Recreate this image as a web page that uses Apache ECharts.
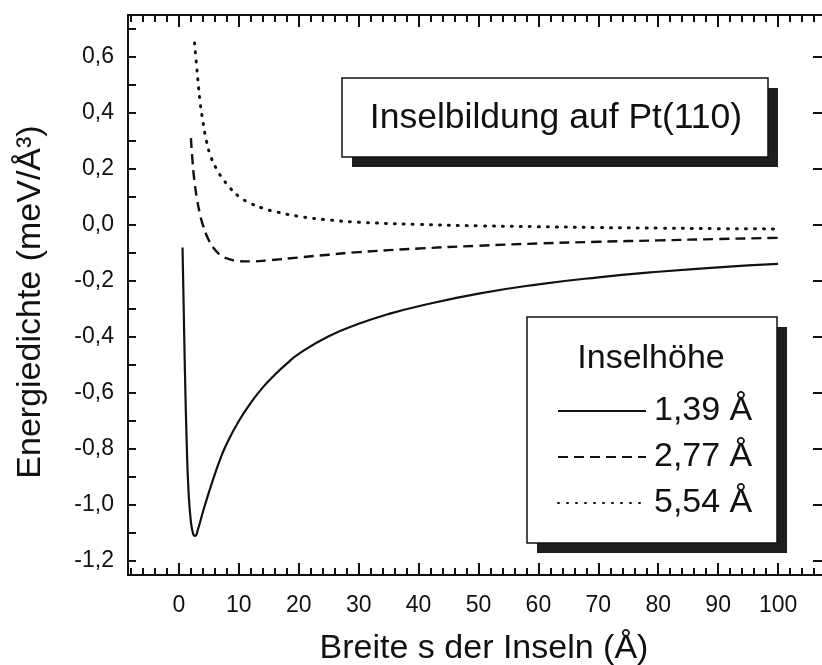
<!DOCTYPE html>
<html>
<head>
<meta charset="utf-8">
<script src="https://cdn.jsdelivr.net/npm/echarts@6/dist/echarts.min.js"></script>
<style>html,body{margin:0;padding:0;background:#fff}#c{width:822px;height:665px}</style>
</head>
<body>
<div id="c"></div>
<script>
// ---- data ----
var seriesNames = ['1,39 Å', '2,77 Å', '5,54 Å'];
var s1x = [0.6, 0.8, 1.0, 1.3, 1.6, 2.0, 2.4, 2.7, 3.2, 4, 5, 6, 7, 8, 10, 12, 14, 16, 18, 20, 25, 30, 35, 40, 50, 60, 70, 80, 90, 100];
var s1y = [-0.08, -0.3, -0.52, -0.78, -0.95, -1.06, -1.105, -1.11, -1.085, -1.025, -0.955, -0.89, -0.83, -0.78, -0.70, -0.635, -0.58, -0.535, -0.495, -0.46, -0.397, -0.353, -0.318, -0.29, -0.245, -0.212, -0.187, -0.167, -0.151, -0.139];
var s2x = [2.0, 2.3, 2.6, 3.0, 3.5, 4.0, 5.0, 6.0, 7.0, 8.5, 10, 12, 15, 20, 25, 30, 40, 50, 60, 70, 80, 90, 100];
var s2y = [0.31, 0.22, 0.155, 0.095, 0.04, 0.0, -0.055, -0.088, -0.108, -0.123, -0.129, -0.13, -0.126, -0.116, -0.106, -0.097, -0.084, -0.074, -0.066, -0.06, -0.055, -0.05, -0.046];
var s3x = [2.6, 2.9, 3.2, 3.5, 4.0, 4.6, 5.4, 6.5, 7.5, 8.5, 10, 12, 14, 16, 20, 25, 30, 40, 50, 60, 70, 80, 90, 100];
var s3y = [0.65, 0.58, 0.51, 0.445, 0.37, 0.30, 0.24, 0.192, 0.16, 0.133, 0.102, 0.077, 0.06, 0.048, 0.031, 0.018, 0.01, 0.002, -0.003, -0.006, -0.009, -0.011, -0.013, -0.014];
var xMajorTicks = [0, 10, 20, 30, 40, 50, 60, 70, 80, 90, 100];
var xMinorTicks = [-8, -6, -4, -2, 2, 4, 6, 8, 12, 14, 16, 18, 22, 24, 26, 28, 32, 34, 36, 38, 42, 44, 46, 48, 52, 54, 56, 58, 62, 64, 66, 68, 72, 74, 76, 78, 82, 84, 86, 88, 92, 94, 96, 98, 102, 104, 106];
var yMajorTicks = [-1.2, -1.0, -0.8, -0.6, -0.4, -0.2, 0.0, 0.2, 0.4, 0.6];
var yAllTicks = [-1.2, -1.1, -1.0, -0.9, -0.8, -0.7, -0.6, -0.5, -0.4, -0.3, -0.2, -0.1, 0.0, 0.1, 0.2, 0.3, 0.4, 0.5, 0.6, 0.7];
var titleText = 'Inselbildung auf Pt(110)';
var legendTitle = 'Inselhöhe';
var xName = 'Breite s der Inseln (Å)';
var yName = 'Energiedichte (meV/Å³)';

function pairs(xs, ys) { return xs.map(function (x, i) { return [x, ys[i]]; }); }

var FONT = '"Liberation Sans", Arial, Helvetica, sans-serif';
var INK = '#111';
var CLEAR = 'rgba(0,0,0,0)';
var X_MIN = -8.5, X_MAX = 108, Y_MIN = -1.25, Y_MAX = 0.75;

function xAxisDef(pos, tickVals, len, showLine, showLabel, name) {
  var a = {
    type: 'value', position: pos, min: X_MIN, max: X_MAX,
    splitLine: { show: false },
    axisLine: { show: showLine, onZero: false, lineStyle: { color: INK, width: 2 } },
    axisTick: { show: true, inside: true, length: len, customValues: tickVals, lineStyle: { color: INK, width: 2 } },
    axisLabel: { show: showLabel, customValues: xMajorTicks, fontSize: 23, color: INK, fontFamily: FONT, margin: 19 }
  };
  if (name) {
    a.name = name; a.nameLocation = 'middle'; a.nameGap = 57;
    a.nameTextStyle = { fontSize: 34, color: INK, fontFamily: FONT, padding: [0, 0, 0, 14] };
  }
  return a;
}

var chart = echarts.init(document.getElementById('c'));
chart.setOption({
  backgroundColor: '#fff',
  animation: false,
  grid: { left: 128, top: 15, right: -4, bottom: 90, containLabel: false, outerBoundsMode: 'none' },
  xAxis: [
    xAxisDef('bottom', xMajorTicks, 12, true, true, xName),
    xAxisDef('bottom', xMinorTicks, 7, false, false),
    xAxisDef('top', xMajorTicks, 12, true, false),
    xAxisDef('top', xMinorTicks, 7, false, false)
  ],
  yAxis: [
    {
      type: 'value', position: 'left', min: Y_MIN, max: Y_MAX,
      splitLine: { show: false },
      axisLine: { show: true, onZero: false, lineStyle: { color: INK, width: 2 } },
      axisTick: { show: true, inside: true, length: 8, customValues: yAllTicks, lineStyle: { color: INK, width: 2 } },
      axisLabel: {
        customValues: yMajorTicks, fontSize: 23, color: INK, fontFamily: FONT, margin: 14,
        formatter: function (v) { return v.toFixed(1).replace('.', ','); }
      },
      name: yName, nameLocation: 'middle', nameRotate: 90, nameGap: 80,
      nameTextStyle: { fontSize: 34, color: INK, fontFamily: FONT, padding: [0, 14, 0, 0] }
    },
    {
      type: 'value', position: 'right', min: Y_MIN, max: Y_MAX,
      splitLine: { show: false },
      axisLine: { show: true, onZero: false, lineStyle: { color: INK, width: 2 } },
      axisTick: { show: true, inside: true, length: 13, customValues: yMajorTicks, lineStyle: { color: INK, width: 2 } },
      axisLabel: { show: false }
    }
  ],
  legend: {
    orient: 'vertical', left: 552, top: 389, itemWidth: 88, itemHeight: 20, itemGap: 12,
    z: 30,
    itemStyle: { color: CLEAR, borderColor: CLEAR, borderWidth: 0 },
    textStyle: { fontSize: 34, color: INK, fontFamily: FONT, padding: [0, 0, 0, 3] },
    data: seriesNames
  },
  graphic: [
    { type: 'rect', z: 10, shape: { x: 352, y: 88, width: 426, height: 79 }, style: { fill: '#1e1e1e' } },
    { type: 'rect', z: 11, shape: { x: 342, y: 78, width: 426, height: 79 }, style: { fill: '#fff', stroke: INK, lineWidth: 1.5 } },
    { type: 'text', z: 12, x: 556, y: 118, style: { text: titleText, font: '35.5px ' + FONT, fill: INK, align: 'center', verticalAlign: 'middle' } },
    { type: 'rect', z: 10, shape: { x: 537, y: 327, width: 250, height: 226 }, style: { fill: '#1e1e1e' } },
    { type: 'rect', z: 11, shape: { x: 527, y: 317, width: 250, height: 226 }, style: { fill: '#fff', stroke: INK, lineWidth: 1.5 } },
    { type: 'text', z: 12, x: 651, y: 359, style: { text: legendTitle, font: '34px ' + FONT, fill: INK, align: 'center', verticalAlign: 'middle' } }
  ],
  series: [
    {
      name: seriesNames[0], type: 'line', xAxisIndex: 0, yAxisIndex: 0, symbol: 'none',
      smooth: 0.5, itemStyle: { color: CLEAR },
      lineStyle: { color: INK, width: 2.2, type: 'solid' },
      data: pairs(s1x, s1y)
    },
    {
      name: seriesNames[1], type: 'line', xAxisIndex: 0, yAxisIndex: 0, symbol: 'none',
      smooth: 0.5, itemStyle: { color: CLEAR },
      lineStyle: { color: INK, width: 2.4, type: [10, 6] },
      data: pairs(s2x, s2y)
    },
    {
      name: seriesNames[2], type: 'line', xAxisIndex: 0, yAxisIndex: 0, symbol: 'none',
      smooth: 0.5, itemStyle: { color: CLEAR },
      lineStyle: { color: INK, width: 3, type: [1, 8], cap: 'round' },
      data: pairs(s3x, s3y)
    }
  ]
});
</script>
</body>
</html>
